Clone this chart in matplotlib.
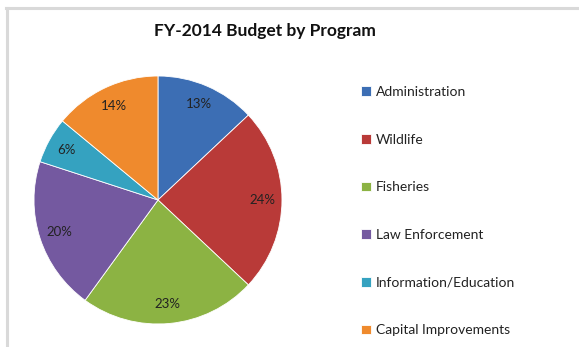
import matplotlib
matplotlib.use("Agg")
import matplotlib.pyplot as plt
from matplotlib.lines import Line2D

categories = ["Administration", "Wildlife", "Fisheries", "Law Enforcement",
              "Information/Education", "Capital Improvements"]
values = [13, 24, 23, 20, 6, 14]
colors = ["#3c6eb4", "#b93a38", "#8cb343", "#7459a0", "#35a2c0", "#ef8a2d"]
title = "FY-2014 Budget by Program"

plt.rcParams['font.family'] = ['Lato', 'DejaVu Sans']

fig = plt.figure(figsize=(5.79, 3.47), dpi=100)
fig.patch.set_facecolor("white")

# light gray frame lines (top and left)
fig.add_artist(Line2D([6/579, 1.0], [1 - 8/347, 1 - 8/347], color="#d9d9d9", lw=2.2,
                      transform=fig.transFigure))
fig.add_artist(Line2D([6.5/579, 6.5/579], [0, 1 - 8/347], color="#d9d9d9", lw=2.2,
                      transform=fig.transFigure))

ax = fig.add_axes([0.0587, 0.0663, 0.4283, 0.7147])
wedges, texts, autotexts = ax.pie(
    values, colors=colors, startangle=90, counterclock=False,
    autopct=lambda p: f"{p:.0f}%", pctdistance=0.84,
    wedgeprops=dict(edgecolor="white", linewidth=0.6),
    textprops=dict(fontsize=9.5, color="#222222"))
ax.set_aspect("equal")
ax.set_xlim(-1.0, 1.0)
ax.set_ylim(-1.0, 1.0)

fig.text(265/579, 1 - 31/347, title, ha="center", va="center",
         fontsize=12.5, fontweight="bold", color="#111111")

leg = fig.legend(wedges, categories, loc="upper left",
                 bbox_to_anchor=(354/579, 1 - 79/347),
                 frameon=False, fontsize=10, labelspacing=2.57,
                 handlelength=0.7, handleheight=0.7, handletextpad=0.35,
                 borderpad=0)
for t in leg.get_texts():
    t.set_color("#222222")

fig.savefig("out.png", dpi=100)
